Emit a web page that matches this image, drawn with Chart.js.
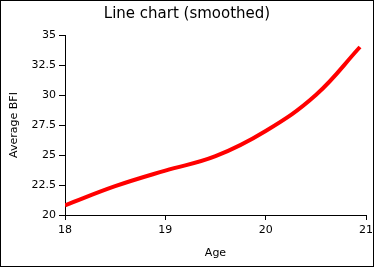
<!DOCTYPE html>
<html>
<head>
<meta charset="utf-8">
<script src="https://cdn.jsdelivr.net/npm/chart.js@4"></script>
<style>
  html, body { margin: 0; padding: 0; background: #fff; }
  #wrap { width: 374px; height: 267px; }
</style>
</head>
<body>
<div id="wrap"><canvas id="bfiChart" width="374" height="267"></canvas></div>
<script>
// data
const ages = [18, 18.5, 19, 19.5, 20, 20.5, 20.94];
const avgBfi = [20.8, 22.4, 23.7, 24.9, 27.0, 30.0, 34.0];
const yTicks = [20, 22.5, 25, 27.5, 30, 32.5, 35];

const fontFamily = '"DejaVu Sans", sans-serif';

// thin black frame round the whole picture
const frame = {
  id: 'frame',
  afterDraw(chart) {
    const c = chart.ctx;
    c.save();
    c.strokeStyle = '#000';
    c.lineWidth = 1;
    c.strokeRect(0.5, 0.5, chart.width - 1, chart.height - 1);
    c.restore();
  }
};

new Chart(document.getElementById('bfiChart'), {
  type: 'line',
  data: {
    datasets: [{
      label: 'Average BFI',
      data: ages.map((a, i) => ({ x: a, y: avgBfi[i] })),
      borderColor: '#ff0000',
      borderWidth: 4,
      pointRadius: 0,
      tension: 0.4,
      fill: false
    }]
  },
  options: {
    responsive: false,
    animation: false,
    layout: { padding: 0 },
    plugins: {
      legend: { display: false },
      tooltip: { enabled: false },
      title: {
        display: true,
        text: 'Line chart (smoothed)',
        color: '#000',
        font: { family: fontFamily, size: 15, weight: 'normal' },
        padding: { top: 5, bottom: 12 }
      }
    },
    scales: {
      x: {
        type: 'linear',
        min: 18,
        max: 21,
        ticks: { stepSize: 1, color: '#000', font: { family: fontFamily, size: 11 }, padding: 4, maxRotation: 0 },
        grid: { drawOnChartArea: false, drawTicks: true, tickLength: 5, color: '#000' },
        border: { display: true, color: '#000', width: 1 },
        title: { display: true, text: 'Age', color: '#000', font: { family: fontFamily, size: 11 }, padding: { top: 0, bottom: 7 } },
        afterFit(scale) {
          scale.height = 52;
          scale.paddingRight = 8;
        }
      },
      y: {
        min: 20,
        max: 35,
        afterBuildTicks(scale) { scale.ticks = yTicks.map(v => ({ value: v })); },
        ticks: { color: '#000', font: { family: fontFamily, size: 11 }, padding: 3 },
        grid: { drawOnChartArea: false, drawTicks: true, tickLength: 6, color: '#000' },
        border: { display: true, color: '#000', width: 1 },
        title: { display: true, text: 'Average BFI', color: '#000', font: { family: fontFamily, size: 11 }, padding: { top: 8, bottom: 0 } },
        afterFit(scale) { scale.width = 65; }
      }
    }
  },
  plugins: [frame]
});
</script>
</body>
</html>
